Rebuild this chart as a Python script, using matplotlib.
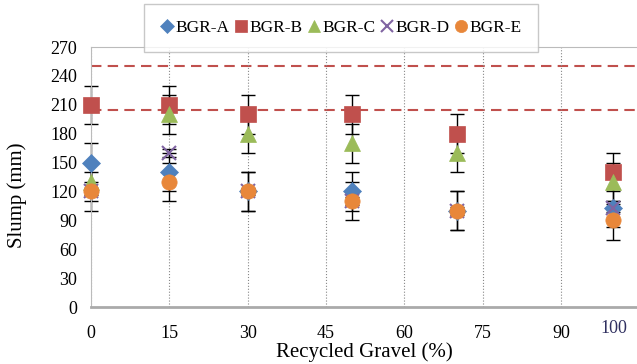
import matplotlib
matplotlib.use('Agg')
import matplotlib.pyplot as plt
import numpy as np

plt.rcParams['font.family'] = ['Liberation Serif', 'DejaVu Serif']

# 数据
gravel = [0, 15, 30, 50, 70, 100]
series_names = ['BGR-A', 'BGR-B', 'BGR-C', 'BGR-D', 'BGR-E']
slump_a = [150, 140, 120, 120, 100, 103]
slump_b = [210, 210, 200, 200, 180, 140]
slump_c = [130, 200, 180, 170, 160, 130]
slump_d = [120, 160, 120, 110, 100, 103]
slump_e = [120, 130, 120, 110, 100, 90]
err_a = [20, 20, 20, 20, 20, 20]
err_b = [20, 20, 20, 20, 20, 20]
err_c = [20, 20, 20, 20, 20, 20]
err_d = [4, 4, 4, 4, 4, 4]
err_e = [20, 20, 20, 20, 20, 20]
limit_lines = [250, 205]
xticks = [0, 15, 30, 45, 60, 75, 90]
yticks = [0, 30, 60, 90, 120, 150, 180, 210, 240, 270]

styles = [
    ('D', '#4F81BD', 9),
    ('s', '#C0504D', 11),
    ('^', '#9BBB59', 11),
    ('x', '#8064A2', 10),
    ('o', '#E8873A', 11),
]

fig = plt.figure(figsize=(6.37, 3.64), dpi=100)
ax = fig.add_axes([91 / 637, 1 - 307 / 364, 1 - 91 / 637, 260 / 364])

for name, y, e, (m, c, ms) in zip(series_names,
                                  [slump_a, slump_b, slump_c, slump_d, slump_e],
                                  [err_a, err_b, err_c, err_d, err_e], styles):
    eb = ax.errorbar(gravel, y, yerr=e, fmt='none', ecolor='black', elinewidth=1,
                     capsize=5, capthick=1, zorder=2)
    for art in eb.lines[1] + eb.lines[2]:
        art.set_clip_on(False)
    ax.plot(gravel, y, linestyle='none', marker=m, color=c, markersize=ms,
            markeredgewidth=1.5 if m == 'x' else 0.5, label=name, zorder=3,
            clip_on=False)

for yl in limit_lines:
    ax.axhline(yl, color='#C0504D', linestyle=(0, (5, 3)), linewidth=1.5, zorder=1)

ax.set_xlim(0, 104.5)
ax.set_ylim(0, 270)
ax.set_xticks(xticks)
ax.set_yticks(yticks)
ax.tick_params(axis='both', length=0, labelsize=13)
ax.tick_params(axis='x', pad=13)
ax.tick_params(axis='y', pad=10)
ax.text(100, -13, '100', ha='center', va='top', fontsize=13, color='#303060',
        transform=ax.transData)
ax.xaxis.grid(True, color='#888888', linestyle=':', linewidth=0.8)

for side in ['top', 'left']:
    ax.spines[side].set_color('#BBBBBB')
ax.spines['bottom'].set_color('#AAAAAA')
ax.spines['bottom'].set_linewidth(2)
ax.spines['right'].set_visible(False)

ax.set_xlabel('Recycled Gravel (%)', fontsize=15, labelpad=0)
ax.set_ylabel('Slump (mm)', fontsize=15)
ax.yaxis.set_label_coords(-64 / 546, 0.43)

leg = fig.legend(loc='center', bbox_to_anchor=(341 / 637, 1 - 28 / 364), ncol=5,
                 fontsize=12.5, frameon=True, fancybox=False, handletextpad=0.1,
                 columnspacing=0.25, handlelength=0.8, borderpad=0.9,
                 markerscale=0.8)
leg.get_frame().set_edgecolor('#BBBBBB')
leg.get_frame().set_linewidth(1)

fig.savefig('out.png', dpi=100)
